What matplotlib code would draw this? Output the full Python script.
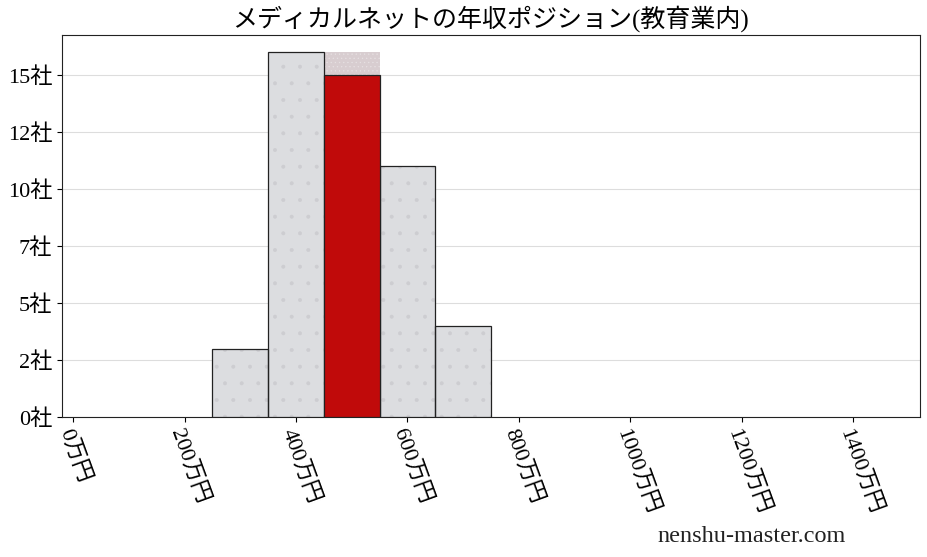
import matplotlib
matplotlib.use("Agg")
import matplotlib.pyplot as plt
from matplotlib.ticker import FuncFormatter

plt.rcParams["font.family"] = ["Liberation Serif", "Noto Sans CJK JP", "DejaVu Sans"]
plt.rcParams["hatch.linewidth"] = 0.4

TITLE = "メディカルネットの年収ポジション(教育業内)"
bin_left = [250, 350, 450, 550, 650]
counts = [3, 16, 15, 11, 4]
highlight_left = 450
highlight_count = 15
highlight_ghost = 16
x_ticks = [0, 200, 400, 600, 800, 1000, 1200, 1400]
y_ticks = [0, 2.5, 5, 7.5, 10, 12.5, 15]

GRAY = "#dcdde0"
RED = "#c00a0a"
PINK = "#d8cdd0"
INK = "#222222"

fig = plt.figure(figsize=(9.28, 5.57), dpi=100)
ax = fig.add_axes([62 / 928, 1 - 417 / 557, (920 - 62) / 928, (417 - 35) / 557])

for left, c in zip(bin_left, counts):
    if left == highlight_left:
        continue
    ax.bar(left, c, width=100, align="edge", color=GRAY, edgecolor="#cdcdd1",
           linewidth=0, hatch=".", zorder=3)
    ax.bar(left, c, width=100, align="edge", fill=False, edgecolor=INK,
           linewidth=0.9, zorder=4)
ax.bar(highlight_left, highlight_ghost, width=100, align="edge", color=PINK,
       edgecolor="#e6e0e2", linewidth=0, hatch="....", zorder=2)
ax.bar(highlight_left, highlight_count, width=100, align="edge", color=RED,
       edgecolor=INK, linewidth=0.9, zorder=4)

ax.set_xlim(-20, 1520)
ax.set_ylim(0, 16.75)
ax.set_xticks(x_ticks)
ax.set_xticklabels([f"{v}万円" for v in x_ticks], rotation=-70, ha="left",
                   va="top", rotation_mode="anchor", fontsize=16)
ax.set_yticks(y_ticks)
ax.yaxis.set_major_formatter(FuncFormatter(lambda v, p: f"{int(v)}社"))
ax.tick_params(axis="y", labelsize=16)
ax.grid(axis="y", color="#dddddd", linewidth=0.8, zorder=0)
ax.set_axisbelow(True)
for s in ax.spines.values():
    s.set_color(INK)

ax.set_title(TITLE, fontsize=18, pad=6)
fig.text(752 / 928, 1 - 537 / 557, "nenshu-master.com", ha="center", va="center",
         fontsize=17.5, color=INK)

fig.savefig("out.png", dpi=100)
